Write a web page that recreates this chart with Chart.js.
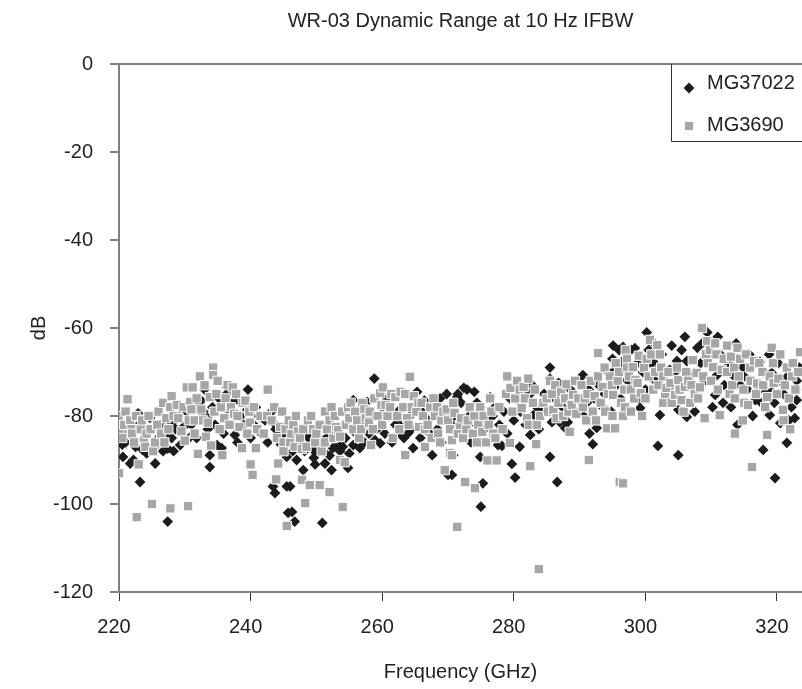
<!DOCTYPE html>
<html>
<head>
<meta charset="utf-8">
<script src="https://cdn.jsdelivr.net/npm/chart.js@4.4.1/dist/chart.umd.min.js"></script>
<style>
  html, body { margin: 0; padding: 0; background: #fff; overflow: hidden; }
  #wrap { width: 802px; height: 689px; }
</style>
</head>
<body>
<div id="wrap"><canvas id="chart"></canvas></div>
<script>
/* eslint-disable no-undef */
const chartTitle = 'WR-03 Dynamic Range at 10 Hz IFBW'
const xTitle = 'Frequency (GHz)'
const yTitle = 'dB'
const seriesNames = ['MG37022', 'MG3690']

// [GHz, dB]
const mg37022 = [
  [220.2, -83], [220.5, -86.5], [220.6, -89.3], [221.0, -86], [221.3, -84], [221.7, -90.8],
  [222.2, -90], [222.5, -87], [222.9, -79.4], [223.0, -82], [223.2, -95], [223.6, -87.7],
  [224.0, -84], [224.2, -88.5], [224.7, -80.4], [225.0, -83], [225.5, -90.8], [225.8, -86.5],
  [226.0, -85], [226.3, -82], [226.7, -88], [227.0, -84.5], [227.4, -87.4], [227.4, -104],
  [228.0, -81.6], [228.0, -85], [228.3, -88], [228.6, -83], [229.0, -80], [229.3, -86.6],
  [229.8, -82.5], [230.3, -79], [230.8, -84.8], [231.0, -82], [231.5, -77], [231.8, -85],
  [232.2, -78.6], [232.5, -76.5], [232.8, -79], [233.0, -74], [233.5, -80.5], [233.5, -83],
  [233.8, -88.9], [233.8, -91.6], [234.2, -78], [234.6, -82], [234.9, -86.6], [235.2, -76],
  [235.6, -87.3], [235.9, -84], [236.0, -76], [236.4, -73.5], [236.5, -74.8], [236.8, -79],
  [237.2, -77], [237.6, -84.3], [238.0, -86], [238.2, -76.5], [238.5, -80], [239.0, -82],
  [239.5, -78.6], [239.6, -74], [240.0, -85], [240.5, -82], [240.8, -78], [241.2, -80],
  [241.6, -84], [242.2, -81], [242.6, -86], [243.2, -79], [243.4, -81.4], [243.4, -96],
  [243.7, -97.5], [243.8, -83], [244.3, -84], [244.6, -86.5], [245.0, -84], [245.5, -89.3],
  [245.5, -96], [245.7, -102], [246.0, -96], [246.3, -101.8], [246.4, -88], [246.7, -104],
  [247.0, -90], [247.2, -85], [247.5, -86], [248.0, -92.3], [248.2, -88], [248.5, -84],
  [248.8, -85], [249.3, -87.3], [249.6, -89.5], [249.8, -91], [250.0, -88.4], [250.4, -86],
  [250.9, -104.3], [251.0, -88], [251.3, -90.8], [251.5, -85], [252.0, -89], [252.3, -92.3],
  [252.5, -87.3], [252.8, -84], [253.3, -86.6], [253.6, -88], [254.0, -87], [254.4, -85],
  [254.8, -91.8], [255.0, -88.5], [255.6, -86.6], [255.6, -76.4], [256.0, -84], [256.3, -79],
  [256.6, -87.3], [257.0, -82.5], [257.3, -86], [257.7, -76.8], [258.0, -84], [258.4, -80],
  [258.8, -71.5], [258.9, -85.5], [259.2, -83], [259.7, -86.2], [260.0, -78], [260.4, -84],
  [260.8, -76], [261.0, -80], [261.5, -86], [262.0, -82], [262.4, -79], [262.7, -84],
  [263.0, -81], [263.3, -85], [263.9, -84], [264.2, -80], [264.5, -83], [264.7, -87.3],
  [265.3, -74.5], [265.8, -85], [266.0, -79], [266.4, -76.5], [267.0, -81], [267.2, -84],
  [267.6, -88.9], [268.0, -79], [268.4, -83], [268.8, -76], [269.0, -86], [269.5, -80],
  [269.8, -75], [270.0, -93.4], [270.3, -78.6], [270.6, -82], [270.6, -93.4], [270.8, -88.9],
  [271.0, -80], [271.4, -75.7], [271.5, -75], [271.9, -84], [272.0, -77], [272.4, -73.6],
  [272.9, -74], [273.2, -80], [273.5, -86], [274.0, -74.5], [274.3, -82], [274.4, -77],
  [274.9, -78], [274.9, -89.3], [275.0, -100.6], [275.3, -95.3], [275.6, -83], [276.0, -81],
  [276.4, -75.7], [276.8, -80], [277.1, -78], [277.6, -86.6], [277.8, -82], [278.2, -86.8],
  [278.5, -79], [279.0, -84], [279.4, -76], [279.7, -90.9], [280.0, -81], [280.2, -94],
  [280.6, -76.4], [280.9, -87], [281.0, -79], [281.5, -74], [281.8, -82], [282.5, -84.3],
  [282.5, -75], [282.8, -73], [283.0, -79.8], [283.5, -78], [283.8, -83], [284.3, -79],
  [284.6, -75], [285.5, -69], [285.5, -71.5], [285.5, -89.3], [285.8, -81.4], [286.2, -76],
  [286.6, -95], [286.8, -72.5], [287.0, -81.4], [287.4, -78], [287.8, -82.7], [288.2, -81.4],
  [288.6, -74], [289.0, -75.7], [289.4, -79], [289.8, -72], [290.0, -76.4], [290.5, -70.7],
  [290.6, -80], [291.1, -77], [291.4, -74], [291.5, -84], [292.0, -86.4], [292.2, -76],
  [292.6, -82.7], [292.9, -73], [293.5, -78], [293.8, -75], [294.3, -70], [294.8, -79],
  [295.0, -67], [295.1, -64], [295.4, -69.5], [295.6, -73], [296.0, -65], [296.2, -76],
  [296.4, -68], [296.6, -64.3], [296.9, -67], [297.0, -78], [297.2, -71.8], [297.5, -69],
  [297.8, -65], [298.0, -73], [298.4, -64.6], [298.8, -68], [299.2, -76.4], [299.2, -78.2],
  [299.6, -70], [300.0, -74], [300.2, -61], [300.5, -65], [300.8, -68], [301.0, -63],
  [301.2, -67.7], [301.5, -72], [301.8, -69.5], [301.9, -86.8], [302.2, -79.8], [302.5, -66],
  [302.8, -70], [303.2, -76], [303.7, -69.5], [303.9, -73], [304.0, -64], [304.5, -70],
  [304.8, -67.5], [305.0, -78.6], [305.0, -88.9], [305.5, -65], [306.0, -62], [306.3, -67.5],
  [306.3, -80.2], [306.8, -71], [307.2, -74], [307.5, -79], [307.9, -64.5], [308.4, -68],
  [308.7, -63.4], [309.0, -72], [309.4, -61], [309.8, -66], [310.2, -78], [310.6, -75.2],
  [310.9, -70.7], [311.0, -62], [311.4, -66], [311.8, -77], [312.0, -73], [312.6, -68],
  [313.0, -78], [313.3, -70.7], [313.8, -63.5], [314.0, -67], [314.0, -82], [314.4, -73],
  [314.8, -68.9], [315.0, -71], [315.5, -74], [315.8, -66], [316.3, -80], [316.7, -76.4],
  [317.0, -73], [317.4, -67.7], [317.6, -77], [317.9, -87.7], [318.0, -70], [318.3, -74.5],
  [318.8, -66], [318.9, -79.8], [319.2, -70.2], [319.2, -74.5], [319.6, -77], [319.7, -94.1],
  [320.2, -68], [320.5, -72], [320.5, -81.6], [321.0, -75], [321.5, -86.1], [321.6, -71],
  [321.8, -81], [322.2, -78], [322.7, -80.5], [322.8, -74], [323.0, -76.4], [323.0, -72],
  [323.4, -69]
]

const mg3690 = [
  [220.0, -80], [220.0, -93], [220.2, -83.6], [220.5, -85], [220.8, -82], [221.0, -79],
  [221.3, -76.2], [221.7, -81], [221.9, -83], [222.0, -84], [222.3, -86], [222.6, -80],
  [222.7, -103], [223.0, -91], [223.3, -83], [223.5, -81], [223.8, -85.5], [224.0, -87],
  [224.2, -84], [224.5, -80], [224.8, -83], [225.0, -100], [225.2, -88], [225.5, -86],
  [225.8, -82], [226.0, -79], [226.4, -84], [226.7, -77], [226.9, -86], [227.2, -80.5],
  [227.5, -83], [227.8, -101], [227.8, -78], [228.0, -75.5], [228.3, -80], [228.8, -77.5],
  [229.0, -80.5], [229.5, -83.5], [229.8, -78], [230.0, -85.6], [230.3, -73.5], [230.5, -100.5],
  [230.6, -81], [230.8, -76.8], [231.0, -78.5], [231.2, -73.5], [231.5, -81], [231.5, -84],
  [231.8, -76], [232.0, -88.6], [232.3, -71], [232.5, -78.5], [232.8, -81], [233.0, -73],
  [233.2, -84.7], [233.5, -81.5], [233.8, -75.7], [234.0, -86.7], [234.3, -69], [234.3, -70.7],
  [234.5, -79], [234.8, -75], [235.0, -72], [235.3, -83], [235.5, -78], [235.7, -88.9],
  [236.0, -80.5], [236.2, -76], [236.5, -73], [236.8, -82], [237.0, -78], [237.3, -73.5],
  [237.5, -79.5], [237.8, -75], [238.0, -80], [238.3, -82.5], [238.7, -87.3], [238.8, -77],
  [239.2, -76.5], [239.5, -84], [239.8, -79], [239.9, -81.5], [240.0, -91], [240.3, -93.4],
  [240.5, -78], [240.8, -87.3], [241.0, -83], [241.5, -80], [242.0, -84], [242.5, -80],
  [242.6, -74], [243.2, -81], [243.6, -78], [243.9, -94.4], [244.0, -85], [244.2, -90.8],
  [244.5, -82.5], [244.8, -79], [245.0, -86], [245.0, -88], [245.3, -83], [245.5, -105],
  [245.8, -81], [246.0, -86], [246.2, -84], [246.5, -82], [246.7, -87], [246.9, -80],
  [247.2, -83.5], [247.5, -85], [247.8, -87.5], [247.8, -94.5], [248.0, -83], [248.3, -99.8],
  [248.5, -87], [248.7, -81], [249.0, -95.7], [249.2, -80], [249.5, -83], [249.8, -86],
  [250.0, -84], [250.5, -95.7], [250.5, -82], [250.8, -88], [251.3, -86], [251.3, -79],
  [251.6, -83], [252.0, -97.3], [252.0, -81], [252.3, -78], [252.6, -85], [252.8, -80],
  [253.0, -82.5], [253.3, -83.2], [253.6, -84.7], [253.6, -90], [253.9, -79], [254.0, -100.7],
  [254.3, -90.5], [254.5, -82], [254.8, -78], [255.0, -80.5], [255.2, -77], [255.6, -83],
  [255.9, -79], [256.2, -81], [256.5, -85], [256.8, -83], [257.0, -77], [257.3, -78.5],
  [257.5, -80.5], [258.0, -81.5], [258.1, -79], [258.3, -86.6], [258.6, -83], [258.8, -76],
  [259.3, -80], [259.7, -74.8], [259.9, -77.5], [260.0, -82], [260.1, -73.5], [260.5, -77.5],
  [260.8, -80], [261.2, -78], [261.4, -75], [261.6, -85], [262.0, -75.7], [262.3, -80],
  [262.6, -83], [262.8, -74.5], [263.2, -78], [263.5, -75], [263.5, -88.9], [263.8, -80.5],
  [264.0, -82], [264.2, -71.1], [264.5, -78], [264.8, -75.5], [265.2, -79], [265.5, -77],
  [265.6, -82.5], [266.0, -77], [266.2, -80], [266.5, -87], [266.5, -83], [266.9, -82],
  [267.3, -78], [267.5, -85], [267.8, -76], [268.0, -80], [268.3, -78], [268.5, -84],
  [268.8, -86], [269.0, -81], [269.3, -79], [269.5, -92.3], [269.8, -78.5], [270.0, -81],
  [270.3, -88.4], [270.3, -83], [270.6, -88.9], [270.6, -85.5], [270.8, -77], [271.0, -79.3],
  [271.4, -105.2], [271.5, -84], [271.8, -82], [272.0, -80.5], [272.3, -85], [272.6, -95],
  [272.8, -83], [273.0, -81], [273.3, -78], [273.8, -84], [274.0, -80], [274.1, -96.4],
  [274.4, -86], [274.6, -82], [274.9, -78], [275.2, -83.6], [275.4, -80], [275.8, -86],
  [276.0, -90.1], [276.2, -82], [276.4, -76], [276.6, -79], [276.9, -84], [277.2, -85],
  [277.4, -90.1], [277.8, -78], [278.3, -83], [278.8, -75], [279.0, -71], [279.4, -86.1],
  [279.5, -73.6], [279.8, -79], [280.2, -76], [280.5, -72], [280.9, -74], [281.2, -78.2],
  [281.5, -73.4], [281.7, -76], [282.0, -80.5], [282.2, -71.5], [282.3, -82], [282.5, -91.4],
  [282.9, -77], [283.2, -74], [283.4, -86.4], [283.5, -82], [283.8, -114.8], [284.0, -80],
  [284.5, -77], [285.0, -76], [285.2, -79], [285.5, -72], [285.8, -75], [286.0, -78.6],
  [286.3, -73], [286.5, -80.5], [286.8, -77], [287.2, -74.5], [287.5, -80], [287.8, -76],
  [288.0, -72.8], [288.3, -79], [288.5, -83.6], [288.8, -77.5], [289.0, -75.2], [289.3, -72],
  [289.5, -79.5], [289.8, -76], [290.3, -73], [290.5, -78], [290.8, -76], [291.0, -81],
  [291.2, -75], [291.4, -90], [291.7, -72], [292.0, -79], [292.3, -75.5], [292.5, -81],
  [292.8, -65.7], [292.8, -71], [293.2, -77], [293.5, -73.4], [293.8, -69], [293.9, -79],
  [294.2, -82.8], [294.3, -75], [294.6, -71], [294.9, -73], [295.0, -80], [295.1, -75.2],
  [295.4, -82.8], [295.5, -68], [295.8, -72], [296.0, -70], [296.1, -95], [296.3, -77],
  [296.6, -80], [296.6, -95.3], [296.8, -74], [296.9, -78], [297.0, -65], [297.2, -67],
  [297.2, -69], [297.5, -71], [297.8, -74], [297.8, -79], [298.1, -68.9], [298.3, -76],
  [298.5, -71.8], [298.8, -72.5], [299.0, -66.3], [299.3, -74.8], [299.5, -80], [299.8, -69],
  [300.0, -76], [300.2, -67], [300.5, -71], [300.7, -62.7], [300.9, -66], [301.2, -74],
  [301.5, -70], [301.8, -63.9], [302.0, -73], [302.2, -66], [302.4, -69], [302.7, -71],
  [302.7, -77], [303.0, -75], [303.2, -73.6], [303.5, -70], [303.8, -72.5], [304.0, -77],
  [304.5, -75.2], [304.8, -69], [305.0, -71.8], [305.2, -74], [305.5, -76.4], [305.8, -79],
  [306.0, -73.4], [306.2, -70], [306.5, -72], [306.8, -77], [307.0, -73], [307.2, -67.3],
  [307.5, -75], [307.8, -70.2], [308.0, -76], [308.3, -73.5], [308.6, -60], [308.8, -71],
  [309.0, -80.5], [309.2, -66], [309.4, -63], [309.5, -68], [309.8, -65], [310.0, -72],
  [310.3, -68.9], [310.6, -63.5], [310.8, -66], [311.0, -74], [311.3, -79.8], [311.6, -69.5],
  [311.9, -67], [312.4, -70], [312.4, -64], [312.8, -75], [313.0, -66.5], [313.2, -73],
  [313.5, -69], [313.6, -76], [313.6, -84], [314.0, -64.5], [314.2, -71], [314.4, -67],
  [314.8, -81], [314.9, -74], [315.0, -77], [315.3, -66], [315.6, -77.5], [315.9, -69],
  [316.0, -72], [316.2, -91.6], [316.5, -67.5], [316.8, -75], [317.0, -72.6], [317.3, -68],
  [317.8, -70], [317.9, -73], [318.2, -78], [318.5, -84.3], [318.5, -75.7], [318.9, -71],
  [319.2, -64.5], [319.4, -68], [319.5, -72.5], [320.0, -75], [320.2, -71.5], [320.5, -66],
  [320.9, -78.6], [321.0, -81], [321.2, -73], [321.5, -69], [321.8, -76], [322.0, -83],
  [322.3, -71], [322.4, -68], [322.8, -74], [323.2, -70], [323.5, -65.5]
]

const toPoints = arr => arr.map(p => ({ x: p[0], y: p[1] }))

// legend drawn as a box inside the plot, top right
const boxLegend = {
  id: 'boxLegend',
  afterDatasetsDraw (chart) {
    const { ctx, chartArea } = chart
    const left = chartArea.right - 131
    const top = chartArea.top + 1
    const bottom = chartArea.top + 77
    ctx.save()
    ctx.fillStyle = '#fff'
    ctx.fillRect(left, top, chartArea.right - left, bottom - top)
    ctx.strokeStyle = '#333'
    ctx.lineWidth = 1
    ctx.beginPath()
    ctx.moveTo(left + 0.5, chartArea.top)
    ctx.lineTo(left + 0.5, bottom + 0.5)
    ctx.lineTo(chartArea.right, bottom + 0.5)
    ctx.stroke()

    const rows = [
      { y: 19, my: 24, ds: chart.data.datasets[0] },
      { y: 61, my: 62, ds: chart.data.datasets[1] }
    ]
    ctx.font = '20px "Liberation Sans", Arial, sans-serif'
    ctx.textBaseline = 'middle'
    ctx.textAlign = 'left'
    rows.forEach(r => {
      ctx.fillStyle = r.ds.backgroundColor
      ctx.strokeStyle = r.ds.borderColor
      Chart.helpers.drawPoint(ctx, {
        pointStyle: r.ds.pointStyle,
        radius: r.ds.pointRadius,
        rotation: 0,
        borderWidth: r.ds.borderWidth
      }, left + 18, chartArea.top + r.my)
      ctx.fillStyle = '#222'
      ctx.fillText(r.ds.label, left + 36, chartArea.top + r.y)
    })
    ctx.restore()
  }
}

Chart.defaults.font.family = '"Liberation Sans", Arial, sans-serif'
Chart.defaults.font.size = 20
Chart.defaults.color = '#222'

const chartElement = document.getElementById('chart').getContext('2d')

const rangeChart = new Chart(chartElement, {
  type: 'scatter',
  data: {
    datasets: [{
      label: seriesNames[0],
      data: toPoints(mg37022),
      pointStyle: 'rectRot',
      pointRadius: 5.4,
      backgroundColor: '#1c1c1c',
      borderColor: '#1c1c1c',
      borderWidth: 0,
      order: 1
    }, {
      label: seriesNames[1],
      data: toPoints(mg3690),
      pointStyle: 'rect',
      pointRadius: 6.6,
      backgroundColor: '#a6a6a8',
      borderColor: '#ffffff',
      borderWidth: 1,
      order: 0
    }]
  },
  options: {
    responsive: true,
    maintainAspectRatio: false,
    animation: false,
    layout: {
      autoPadding: false,
      padding: { left: 23, right: 0, top: 0, bottom: 1 }
    },
    scales: {
      x: {
        type: 'linear',
        min: 220,
        max: 323.8,
        afterFit (scale) {
          scale.height = 96
          scale.paddingRight = 0
          scale.paddingLeft = 0
        },
        ticks: {
          stepSize: 20,
          includeBounds: false,
          padding: 14,
          labelOffset: -5
        },
        grid: {
          drawOnChartArea: false,
          tickLength: 9,
          tickColor: '#333',
          tickWidth: 1
        },
        border: { color: '#808080', width: 2 },
        title: {
          display: true,
          text: xTitle,
          font: { size: 20 }
        }
      },
      y: {
        min: -120,
        max: 0,
        afterFit (scale) { scale.width = 96 },
        ticks: {
          stepSize: 20,
          padding: 17
        },
        grid: {
          color: ctx => (ctx.tick && ctx.tick.value === 0 ? '#808080' : 'rgba(0,0,0,0)'),
          lineWidth: 2,
          tickLength: 9,
          tickColor: '#808080'
        },
        border: { color: '#808080', width: 2 },
        title: {
          display: true,
          text: yTitle,
          font: { size: 20 }
        }
      }
    },
    plugins: {
      title: {
        display: true,
        text: chartTitle,
        fullSize: false,
        font: { size: 20, weight: 'normal' },
        color: '#222',
        padding: { top: 9, bottom: 31 }
      },
      legend: { display: false },
      tooltip: { enabled: false }
    }
  },
  plugins: [boxLegend]
})
</script>
</body>
</html>
